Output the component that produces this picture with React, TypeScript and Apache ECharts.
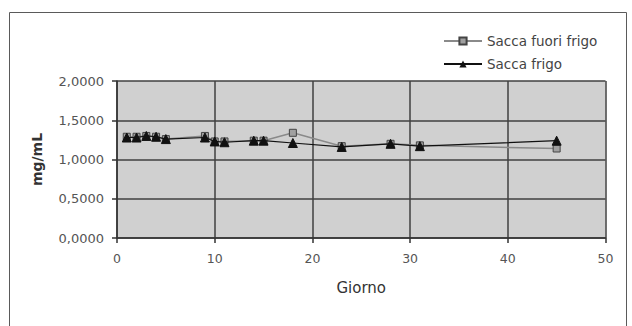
import React, { useEffect, useRef } from "react";
import * as echarts from "echarts";

const days = [1, 2, 3, 4, 5, 9, 10, 11, 14, 15, 18, 23, 28, 31, 45];
const fuoriFrigo = [1.29, 1.29, 1.3, 1.29, 1.26, 1.3, 1.23, 1.23, 1.24, 1.24, 1.34, 1.17, 1.2, 1.18, 1.14];
const frigo = [1.28, 1.28, 1.3, 1.29, 1.26, 1.28, 1.23, 1.22, 1.24, 1.24, 1.21, 1.16, 1.2, 1.17, 1.24];
const seriesNames = ["Sacca fuori frigo", "Sacca frigo"];
const xTicks = [0, 10, 20, 30, 40, 50];
const yTicks = [0, 0.5, 1, 1.5, 2];

const FONT = "DejaVu Sans";

export default function App() {
  const ref = useRef<HTMLDivElement>(null);
  useEffect(() => {
    if (!ref.current) return;
    const chart = echarts.init(ref.current, undefined, { renderer: "svg" });
    chart.setOption({
      animation: false,
      backgroundColor: "#ffffff",
      graphic: [
        {
          type: "rect",
          shape: { x: 9.5, y: 12.5, width: 617, height: 330 },
          style: { fill: "none", stroke: "#5a5a5a", lineWidth: 1 },
          silent: true,
          z: -1,
        },
      ],
      legend: {
        orient: "vertical",
        left: 438,
        top: 29,
        itemWidth: 38,
        itemHeight: 9,
        itemGap: 9,
        textStyle: { fontFamily: FONT, fontSize: 13.5, color: "#444" },
        data: seriesNames,
      },
      grid: {
        left: 117,
        right: 26.5,
        top: 81,
        bottom: 88,
        show: true,
        backgroundColor: "#d0d0d0",
        borderWidth: 0,
      },
      xAxis: {
        type: "value",
        min: xTicks[0],
        max: xTicks[xTicks.length - 1],
        interval: 10,
        name: "Giorno",
        nameLocation: "middle",
        nameGap: 42,
        nameTextStyle: { fontFamily: FONT, fontSize: 15, color: "#333" },
        axisLine: { show: true, onZero: false, lineStyle: { color: "#333", width: 1.5 } },
        axisTick: { show: true, length: 5, lineStyle: { color: "#333", width: 1.5 } },
        axisLabel: { fontFamily: FONT, fontSize: 12.5, color: "#555", margin: 14 },
        splitLine: { show: true, lineStyle: { color: "#404040", width: 1.5 } },
      },
      yAxis: {
        type: "value",
        min: yTicks[0],
        max: yTicks[yTicks.length - 1],
        interval: 0.5,
        name: "mg/mL",
        nameLocation: "middle",
        nameGap: 73,
        nameTextStyle: { fontFamily: FONT, fontSize: 14, fontWeight: "bold", color: "#333" },
        axisLine: { show: true, lineStyle: { color: "#333", width: 1.5 } },
        axisTick: { show: true, length: 5, lineStyle: { color: "#333", width: 1.5 } },
        axisLabel: {
          fontFamily: FONT,
          fontSize: 13,
          color: "#555",
          margin: 13,
          formatter: (v: number) => v.toFixed(4).replace(".", ","),
        },
        splitLine: { show: true, lineStyle: { color: "#404040", width: 1.5 } },
      },
      series: [
        {
          name: seriesNames[0],
          type: "line",
          data: days.map((d, i) => [d, fuoriFrigo[i]]),
          symbol: "rect",
          symbolSize: 7,
          lineStyle: { color: "#8a8a8a", width: 1.5 },
          itemStyle: { color: "#a0a0a0", borderColor: "#444", borderWidth: 1 },
          z: 2,
        },
        {
          name: seriesNames[1],
          type: "line",
          data: days.map((d, i) => [d, frigo[i]]),
          symbol: "triangle",
          symbolSize: 9,
          lineStyle: { color: "#111", width: 1.2 },
          itemStyle: { color: "#111", borderColor: "#111" },
          z: 3,
        },
      ],
    });
    return () => chart.dispose();
  }, []);
  return <div ref={ref} style={{ width: 632, height: 326, position: "absolute", left: 0, top: 0 }} />;
}
